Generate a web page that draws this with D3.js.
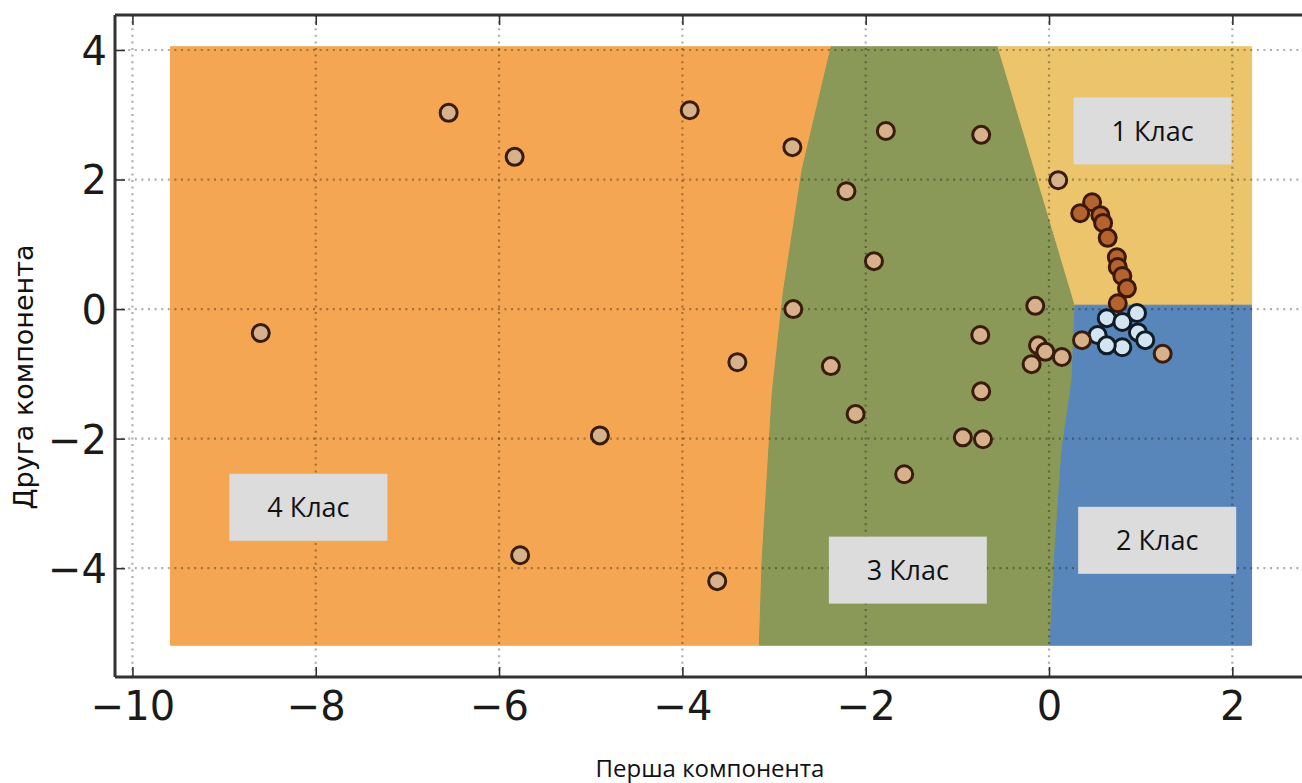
<!DOCTYPE html>
<html>
<head>
<meta charset="utf-8">
<script src="https://cdn.jsdelivr.net/npm/d3@7"></script>
<style>
  html, body { margin: 0; padding: 0; background: #fff; overflow: hidden; }
</style>
</head>
<body>
<script>
const width = 1302;
const height = 783;

// ticks
const xTicks = [-10, -8, -6, -4, -2, 0, 2];
const yTicks = [-4, -2, 0, 2, 4];

// decision regions
const regionX = [-9.585, 2.21];
const regionY = [-5.19, 4.05];
const border43 = [[-2.377, 4.05], [-2.694, 2.15], [-2.90, 0.25], [-3.02, -1.30], [-3.13, -3.88], [-3.16, -5.19]];
const border31 = [[-0.556, 4.05], [0.284, 0.06]];
const border32 = [[0.284, 0.06], [0.25, -1.10], [0.14, -2.18], [0.065, -3.72], [0.01, -5.19]];
const border12 = 0.06;

// points
const tanPts = [
  [-6.55, 3.03], [-5.83, 2.35], [-3.92, 3.07], [-2.80, 2.50], [-1.78, 2.75], [-0.74, 2.69],
  [-2.21, 1.82], [-1.91, 0.74], [-2.79, 0.00], [-8.60, -0.37], [-3.40, -0.82], [-2.38, -0.88],
  [-0.75, -0.40], [-0.74, -1.27], [-2.11, -1.62], [-4.90, -1.95], [-0.94, -1.98], [-0.72, -2.01],
  [-1.58, -2.55], [-5.77, -3.80], [-3.62, -4.20], [0.10, 1.99], [-0.15, 0.05], [-0.12, -0.56],
  [-0.04, -0.66], [-0.19, -0.85], [0.14, -0.74]
];
const brownPts = [
  [0.47, 1.65], [0.34, 1.48], [0.56, 1.45], [0.59, 1.33], [0.64, 1.10],
  [0.74, 0.80], [0.75, 0.65], [0.80, 0.51], [0.85, 0.32], [0.75, 0.09]
];
const bluePts = [
  [0.96, -0.06], [0.63, -0.14], [0.80, -0.20], [0.53, -0.40], [0.97, -0.36],
  [1.05, -0.48], [0.80, -0.59], [0.63, -0.56]
];
const tanPts2 = [[0.36, -0.48], [1.24, -0.69]];

// class labels
const classNames = ['1 Клас', '2 Клас', '3 Клас', '4 Клас'];
const classPos = [[1.13, 2.75], [1.18, -3.57], [-1.54, -4.03], [-8.08, -3.06]];

const xLabel = 'Перша компонента';
const yLabel = 'Друга компонента';

const x = d3.scaleLinear().domain([-10.19, 2.76]).range([115, 1302]);
const y = d3.scaleLinear().domain([-5.68, 4.54]).range([677, 15]);

const svg = d3.select('body').append('svg')
  .attr('width', width)
  .attr('height', height);

const line = d3.line().x(d => x(d[0])).y(d => y(d[1]));

const [x0, x1] = regionX;
const [yb, yt] = regionY;

const regions = [
  { color: '#f4a652', pts: [[x0, yt], ...border43, [x0, yb]] },
  { color: '#8a9858', pts: [...border43, ...border32.slice().reverse(), ...border31.slice().reverse()] },
  { color: '#ecc46c', pts: [...border31, [x1, border12], [x1, yt]] },
  { color: '#5886ba', pts: [...border32, [x1, yb], [x1, border12]] }
];

svg.append('g').selectAll('path')
  .data(regions)
  .join('path')
  .attr('d', d => line(d.pts) + 'Z')
  .attr('fill', d => d.color)
  .attr('stroke', d => d.color)
  .attr('stroke-width', 1);

// grid
const grid = svg.append('g')
  .attr('stroke', '#000')
  .attr('stroke-opacity', 0.32)
  .attr('stroke-width', 2.2)
  .attr('stroke-dasharray', '2,4.6');

grid.selectAll('.gx').data(xTicks).join('line')
  .attr('x1', d => x(d)).attr('x2', d => x(d))
  .attr('y1', y.range()[1]).attr('y2', y.range()[0]);

grid.selectAll('.gy').data(yTicks).join('line')
  .attr('y1', d => y(d)).attr('y2', d => y(d))
  .attr('x1', x.range()[0]).attr('x2', x.range()[1]);

// axes
const fontTick = 'DejaVu Sans';

const xAxis = d3.axisBottom(x).tickValues(xTicks).tickSizeInner(-10).tickSizeOuter(0).tickPadding(15);
const gx = svg.append('g').attr('transform', `translate(0,${y.range()[0]})`).call(xAxis);

const xTop = d3.axisTop(x).tickValues(xTicks).tickSizeInner(-10).tickSizeOuter(0).tickFormat('');
const gt = svg.append('g').attr('transform', `translate(0,${y.range()[1]})`).call(xTop);

const yAxis = d3.axisLeft(y).tickValues(yTicks).tickSizeInner(-10).tickSizeOuter(0).tickPadding(8);
const gy = svg.append('g').attr('transform', `translate(${x.range()[0]},0)`).call(yAxis);

[gx, gt, gy].forEach(g => {
  g.select('.domain').remove();
  g.selectAll('.tick line').attr('stroke', '#333').attr('stroke-width', 1.6);
  g.selectAll('.tick text')
    .attr('font-family', fontTick)
    .attr('font-size', 40)
    .attr('fill', '#1a1a1a');
});
gy.selectAll('.tick text').attr('dy', '0.36em');

// frame
const frame = svg.append('g').attr('stroke', '#333').attr('stroke-width', 3).attr('fill', 'none');
frame.append('line')
  .attr('x1', x.range()[0]).attr('x2', x.range()[0])
  .attr('y1', y.range()[1]).attr('y2', y.range()[0]);
frame.append('line')
  .attr('x1', x.range()[0]).attr('x2', x.range()[1])
  .attr('y1', y.range()[0]).attr('y2', y.range()[0]);
frame.append('line')
  .attr('x1', x.range()[0]).attr('x2', x.range()[1])
  .attr('y1', y.range()[1]).attr('y2', y.range()[1]);

// points
function drawPts(data, fill, stroke) {
  svg.append('g').selectAll('circle')
    .data(data)
    .join('circle')
    .attr('cx', d => x(d[0]))
    .attr('cy', d => y(d[1]))
    .attr('r', 8.5)
    .attr('fill', fill)
    .attr('stroke', stroke)
    .attr('stroke-width', 3);
}
drawPts(tanPts, '#d7b08c', '#381c0c');
drawPts(brownPts, '#b4622e', '#3d1808');
drawPts(bluePts, '#d3e5f0', '#0f1c26');
drawPts(tanPts2, '#d7b08c', '#381c0c');

// class label boxes
const boxW = 158, boxH = 67;
const lab = svg.append('g').selectAll('g')
  .data(classNames)
  .join('g')
  .attr('transform', (d, i) => `translate(${x(classPos[i][0])},${y(classPos[i][1])})`);
lab.append('rect')
  .attr('x', -boxW / 2).attr('y', -boxH / 2)
  .attr('width', boxW).attr('height', boxH)
  .attr('fill', '#dcdcdc');
lab.append('text')
  .attr('text-anchor', 'middle')
  .attr('dy', '0.36em')
  .attr('font-family', 'Open Sans')
  .attr('font-size', 27)
  .attr('fill', '#111')
  .text(d => d);

// axis titles
svg.append('text')
  .attr('x', 710).attr('y', 777)
  .attr('text-anchor', 'middle')
  .attr('font-family', 'Open Sans')
  .attr('font-size', 24)
  .attr('fill', '#111')
  .text(xLabel);

svg.append('text')
  .attr('transform', 'translate(33,377) rotate(-90)')
  .attr('text-anchor', 'middle')
  .attr('font-family', 'DejaVu Sans')
  .attr('font-size', 27)
  .attr('fill', '#111')
  .text(yLabel);
</script>
</body>
</html>
